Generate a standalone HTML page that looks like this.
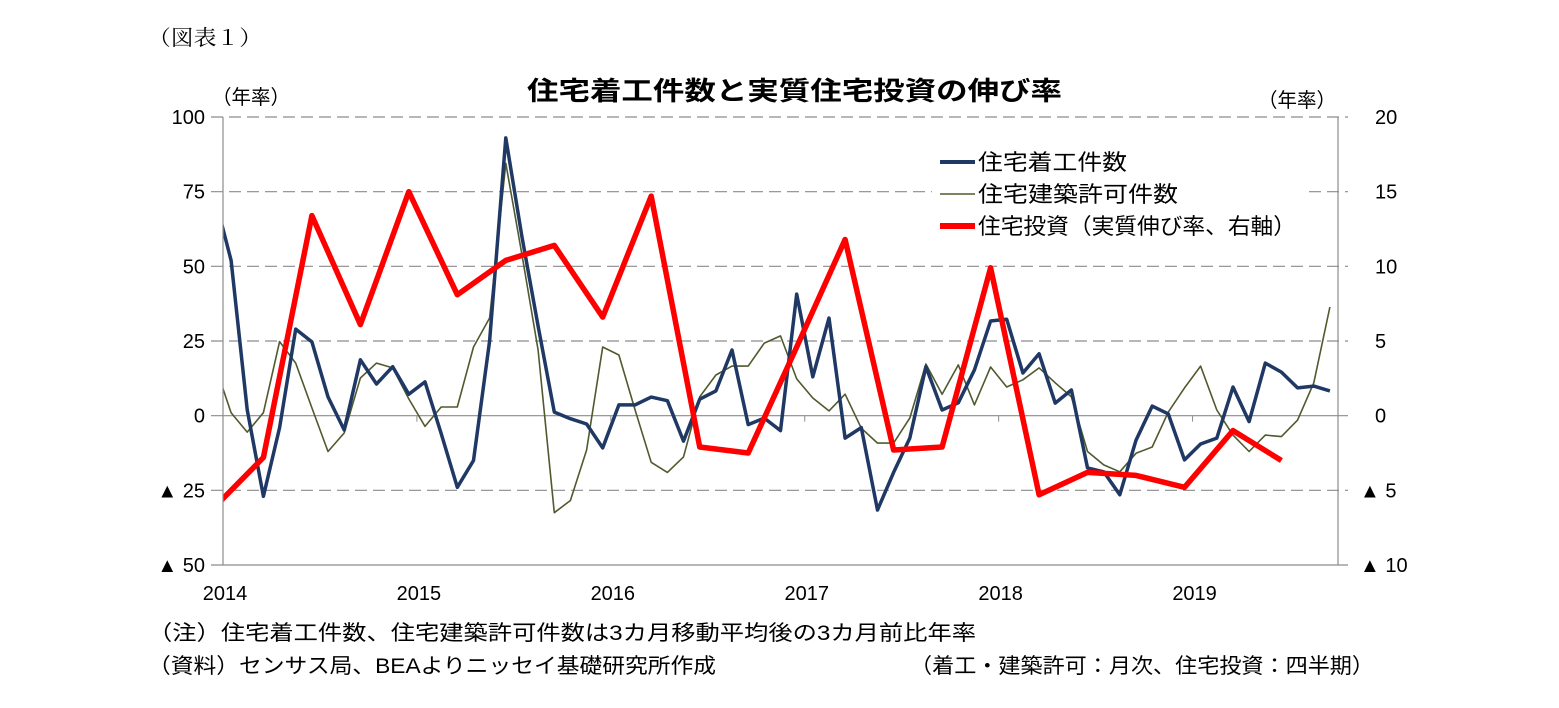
<!DOCTYPE html>
<html><head><meta charset="utf-8"><style>
body{margin:0;background:#fff;}
svg{display:block;font-family:"Liberation Sans","Noto Sans CJK JP",sans-serif;}
</style></head><body>
<svg id="chart" width="1559" height="708" viewBox="0 0 1559 708" xmlns="http://www.w3.org/2000/svg">
<text x="148" y="45" font-size="21" textLength="114" lengthAdjust="spacingAndGlyphs" font-family="Liberation Serif,Noto Serif CJK SC,serif">（図表１）</text>
<text x="527" y="100" font-size="26" font-weight="bold" textLength="535" lengthAdjust="spacingAndGlyphs">住宅着工件数と実質住宅投資の伸び率</text>
<text x="212" y="104" font-size="20" textLength="78" lengthAdjust="spacingAndGlyphs">（年率）</text>
<text x="1258" y="107" font-size="20" textLength="78" lengthAdjust="spacingAndGlyphs">（年率）</text>
<g id="grid"></g><g id="series"></g><g id="axes"></g>
<g>
<rect x="932" y="140" width="373" height="105" fill="#fff"/>
<line x1="940" y1="162" x2="975" y2="162" stroke="#1f3864" stroke-width="4"/>
<text x="978" y="170" font-size="22" textLength="149" lengthAdjust="spacingAndGlyphs">住宅着工件数</text>
<line x1="940" y1="194" x2="975" y2="194" stroke="#4f5a2e" stroke-width="1.5"/>
<text x="978" y="202" font-size="22" textLength="200" lengthAdjust="spacingAndGlyphs">住宅建築許可件数</text>
<line x1="940" y1="226" x2="975" y2="226" stroke="#ff0000" stroke-width="6"/>
<text x="978" y="234" font-size="22" textLength="318" lengthAdjust="spacingAndGlyphs">住宅投資（実質伸び率、右軸）</text>
</g>
<text x="148" y="640" font-size="21" textLength="828" lengthAdjust="spacingAndGlyphs">（注）住宅着工件数、住宅建築許可件数は3カ月移動平均後の3カ月前比年率</text>
<text x="148" y="673" font-size="21" textLength="568" lengthAdjust="spacingAndGlyphs">（資料）センサス局、BEAよりニッセイ基礎研究所作成</text>
<text x="910" y="673" font-size="21" textLength="464" lengthAdjust="spacingAndGlyphs">（着工・建築許可：月次、住宅投資：四半期）</text>
</svg>
<script>
const yearLabels=["2014","2015","2016","2017","2018","2019"];
const leftTicks=[100,75,50,25,0,-25,-50];
const rightTicks=[20,15,10,5,0,-5,-10];
// monthly, Dec 2013 .. Sep 2019
const starts=[73,52,2,-27,-4,29,24.7,6.3,-4.8,18.7,10.6,16.4,7.2,11.3,-6,-24,-15,25,93,60,30,1.2,-1,-2.8,-10.8,3.6,3.6,6.2,5,-8.5,5.5,8.3,22,-3,-0.8,-5,40.7,13,32.7,-7.5,-4,-31.6,-19,-7.5,16.4,1.9,4.3,15.3,31.7,32.3,14.3,20.7,4.2,8.6,-17.5,-18.8,-26.5,-8.2,3.2,0.6,-14.8,-9.5,-7.5,9.6,-2,17.6,14.6,9.3,9.9,8.3];
const permits=[17,1,-5.5,1,24.8,17.6,2.6,-12,-5.8,12.6,17.6,16,5.6,-3.6,2.9,2.9,23,32.7,84.5,54,22,-32.5,-28.4,-11.5,23,20.3,1.9,-15.6,-19,-13.8,6.3,13.6,16.6,16.6,24.3,26.7,12.3,5.9,1.6,7.2,-4.2,-9.2,-9.2,-0.8,17.3,7.2,17,3.6,16.3,9.6,12,16,11,6.3,-12,-16.5,-18.8,-12.6,-10.5,1.2,9.3,16.6,1.9,-6.5,-12,-6.5,-7,-1.5,11,36.4];
// quarterly, 2013Q4 .. 2019Q2 (plotted at quarter-end month)
const investment=[-6.1,-2.8,13.4,6.1,15,8.1,10.4,11.4,6.6,14.7,-2.1,-2.5,4.6,11.8,-2.3,-2.1,9.9,-5.3,-3.8,-4,-4.8,-1,-3];
const NS="http://www.w3.org/2000/svg";
const X0=223,X1=1338,PT=117,PB=565,MW=(X1-X0)/69;
const xm=i=>X0+(i+0.5)*MW;
const yl=v=>PT+(100-v)*(PB-PT)/150;
const yr=v=>PT+(20-v)*(PB-PT)/30;
function mk(t,a,p){const e=document.createElementNS(NS,t);for(const k in a)e.setAttribute(k,a[k]);p.appendChild(e);return e;}
const grid=document.getElementById('grid'),axes=document.getElementById('axes'),ser=document.getElementById('series');
const defs=mk('defs',{},grid);const cp=mk('clipPath',{id:'clip'},defs);mk('rect',{x:X0,y:PT-10,width:X1-X0,height:PB-PT+20},cp);
leftTicks.forEach((v,k)=>{
 const y=yl(v);
 const g=mk('line',{x1:X0-12,y1:y,x2:X1+10,y2:y,stroke:'#8c8c8c','stroke-width':1.2},grid);
 if(v!==0&&v!==-50)g.setAttribute('stroke-dasharray','12 6');
 
 
 const t=mk('text',{x:205,y:y+7,'font-size':20,'text-anchor':'end'},axes);
 t.textContent=v<0?'▲ '+(-v):String(v);
 
 
 const rv=rightTicks[k];
 const r=mk('text',{x:rv<0?1360:1375,y:yr(rv)+7,'font-size':20},axes);
 r.textContent=rv<0?'▲ '+(-rv):String(rv);
 
 
});
mk('line',{x1:X0,y1:PT,x2:X0,y2:PB,stroke:'#8c8c8c','stroke-width':1.2},axes);
mk('line',{x1:X1,y1:PT,x2:X1,y2:PB,stroke:'#8c8c8c','stroke-width':1.2},axes);
yearLabels.forEach((s,k)=>{
 const x=X0+k*12*MW;
 mk('line',{x1:x,y1:yl(0),x2:x,y2:yl(0)+6,stroke:'#8c8c8c'},axes);
 const t=mk('text',{x:x+2,y:600,'font-size':20,'text-anchor':'middle'},axes);
 t.textContent=s;
 
 
});
const g=mk('g',{'clip-path':'url(#clip)'},ser);
function line(vals,xf,yf,col,w,name){
 const pts=vals.map((v,i)=>xf(i).toFixed(1)+','+yf(v).toFixed(1)).join(' ');
 const p=mk('polyline',{points:pts,fill:'none',stroke:col,'stroke-width':w,'stroke-linejoin':'round'},g);
 
 
}
line(permits,i=>xm(i-1),yl,'#4f5a2e',1.6,'permits-line');
line(starts,i=>xm(i-1),yl,'#1f3864',3.5,'starts-line');
line(investment,k=>xm(3*k-1),yr,'#ff0000',5.5,'investment-line');
</script>
</body></html>
